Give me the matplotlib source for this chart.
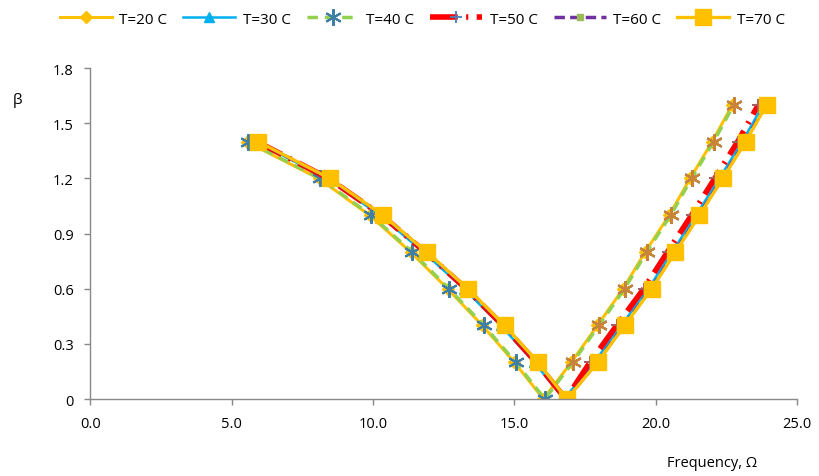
import numpy as np
import matplotlib.pyplot as plt

plt.rcParams['font.family'] = ['Open Sans', 'DejaVu Sans']

# beta values along each branch
beta_left = [1.4, 1.2, 1.0, 0.8, 0.6, 0.4, 0.2, 0.0]
beta_right = [0.2, 0.4, 0.6, 0.8, 1.0, 1.2, 1.4, 1.6]

# frequencies (left branch, then right branch)
f20_left = [5.53, 8.08, 9.88, 11.33, 12.64, 13.87, 15.0, 16.03]
f20_right = [17.02, 17.94, 18.85, 19.63, 20.48, 21.22, 22.0, 22.71]
f30_left = [5.86, 8.38, 10.24, 11.78, 13.22, 14.52, 15.7, 16.76]
f30_right = [17.83, 18.78, 19.74, 20.58, 21.43, 22.25, 23.06, 23.8]
f40_left = [5.58, 8.13, 9.93, 11.38, 12.69, 13.92, 15.05, 16.08]
f40_right = [17.07, 17.99, 18.9, 19.68, 20.53, 21.27, 22.05, 22.76]
f50_left = [5.9, 8.43, 10.3, 11.85, 13.3, 14.6, 15.77, 16.82]
f50_right = [17.68, 18.62, 19.58, 20.42, 21.27, 22.09, 22.9, 23.63]
f60_left = [5.92, 8.46, 10.33, 11.88, 13.34, 14.64, 15.81, 16.85]
f60_right = [17.93, 18.88, 19.84, 20.68, 21.53, 22.35, 23.16, 23.9]
f70_left = [5.94, 8.48, 10.35, 11.9, 13.36, 14.66, 15.83, 16.86]
f70_right = [17.95, 18.9, 19.86, 20.7, 21.55, 22.37, 23.18, 23.92]

labels = ['T=20 C', 'T=30 C', 'T=40 C', 'T=50 C', 'T=60 C', 'T=70 C']

star = (6, 2, 0)
series = [
    (f20_left, f20_right, dict(color='#FFC000', lw=2.2, ls='-', marker='D', ms=6,
                              mfc='#FFC000', mec='#FFC000'), None),
    (f30_left, f30_right, dict(color='#00B0F0', lw=1.8, ls='-', marker='^', ms=7,
                              mfc='#00B0F0', mec='#00B0F0'), None),
    (f40_left, f40_right, dict(color='#92D050', lw=2.5, ls=(0, (3, 2)), marker=star, ms=12,
                              mfc='#3F7FA6', mec='#3F7FA6', mew=1.5), '#C8823A'),
    (f50_left, f50_right, dict(color='#FF0000', lw=4.0, ls=(0, (5, 1.5, 0.4, 1.5)), marker='+', ms=9,
                              mfc='#4A7EBB', mec='#4A7EBB', mew=1.3), '#B05A5A'),
    (f60_left, f60_right, dict(color='#7030A0', lw=2.5, ls=(0, (3, 1.5)), marker='s', ms=4,
                              mfc='#9BBB59', mec='#9BBB59'), None),
    (f70_left, f70_right, dict(color='#FFC000', lw=2.4, ls='-', marker='s', ms=11,
                              mfc='#FFC000', mec='#FFC000'), None),
]

fig = plt.figure(figsize=(8.2, 4.77), dpi=100)
ax = fig.add_axes([0.11, 0.1614, 0.862, 0.6936])

handles = []
for (fl, fr, st, right_mc), lab in zip(series, labels):
    x = list(fl) + list(fr)
    y = beta_left + beta_right
    h, = ax.plot(x, y, label=lab, **st)
    handles.append(h)
    if right_mc is not None:
        # markers on the rising branch are drawn in another colour
        ax.plot(fr, beta_right, ls='none', marker=st['marker'], ms=st['ms'],
                mfc=right_mc, mec=right_mc, mew=st.get('mew', 1.0))

ax.set_xlim(0, 25)
ax.set_ylim(0, 1.8)
ax.set_xticks(np.arange(0, 25.1, 5))
ax.set_xticklabels([f'{v:.1f}' for v in np.arange(0, 25.1, 5)])
ax.set_yticks([0, 0.3, 0.6, 0.9, 1.2, 1.5, 1.8])
ax.set_yticklabels(['0', '0.3', '0.6', '0.9', '1.2', '1.5', '1.8'])

for s in ['top', 'right']:
    ax.spines[s].set_visible(False)
for s in ['left', 'bottom']:
    ax.spines[s].set_color('#888888')
    ax.spines[s].set_linewidth(1.0)
ax.tick_params(axis='both', colors='#888888', labelcolor='black', labelsize=10.5,
               length=4, width=1.0, direction='out')
ax.tick_params(axis='x', pad=8)
ax.tick_params(axis='y', pad=8)

fig.text(18 / 820, 1 - 100 / 477, 'β', fontsize=11, ha='center', va='center')
fig.text(712 / 820, 1 - 464 / 477, 'Frequency, Ω', fontsize=10.5, ha='center', va='center')

fig.legend(handles=handles, loc='upper center', bbox_to_anchor=(0.515, 0.993), ncol=6,
           frameon=False, fontsize=11, handlelength=3.4, columnspacing=1.05,
           handletextpad=0.5, borderaxespad=0.2)

fig.savefig('out.png', dpi=100)
